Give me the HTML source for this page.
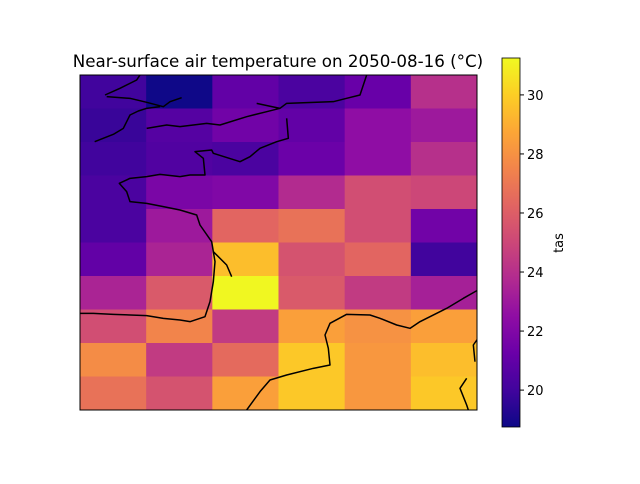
<!DOCTYPE html>
<html><head><meta charset="utf-8"><style>
body{margin:0;background:#fff;font-family:"DejaVu Sans",sans-serif}
</style></head><body>
<svg id="chart" width="640" height="480" xmlns="http://www.w3.org/2000/svg" font-family="DejaVu Sans, sans-serif">
<defs>
<linearGradient id="cb" x1="0" y1="1" x2="0" y2="0">
<stop offset="0" stop-color="#0d0887"/><stop offset="0.1" stop-color="#41049d"/><stop offset="0.2" stop-color="#6a00a8"/><stop offset="0.3" stop-color="#8f0da4"/><stop offset="0.4" stop-color="#b12a90"/><stop offset="0.5" stop-color="#cc4778"/><stop offset="0.6" stop-color="#e16462"/><stop offset="0.7" stop-color="#f2844b"/><stop offset="0.8" stop-color="#fca636"/><stop offset="0.9" stop-color="#fcce25"/><stop offset="1" stop-color="#f0f921"/>
</linearGradient>
<clipPath id="pc"><rect x="80" y="75" width="397" height="335"/></clipPath>
</defs>
<text x="278" y="67" font-size="16.7" text-anchor="middle">Near-surface air temperature on 2050-08-16 (°C)</text>
<g id="cells"></g>
<g clip-path="url(#pc)">
<g transform="translate(80,75) scale(0.33333)" fill="none" stroke="#000" stroke-width="4.5" stroke-linejoin="round">
<path d="M75,60 L120,40 L170,15 L180,0"/>
<path d="M80,65 L150,70 L200,82 L250,95 L270,80 L305,68"/>
<path d="M44,200 L100,178 L130,160 L150,120 L175,108 L200,100 L240,95"/>
<path d="M200,160 L260,150 L300,155 L380,145 L420,150 L500,125 L560,110 L600,100 L620,85 L700,82 L760,80 L800,70 L840,60 L860,0"/>
<path d="M530,85 L600,100"/>
<path d="M620,130 L625,190 L590,200 L540,220 L510,245 L480,260 L400,235 L395,225 L345,230 L370,250 L375,300 L330,300 L300,305 L240,298 L200,305 L150,310 L118,325 L140,350 L150,380 L200,385 L250,395 L300,405 L350,420 L360,450 L395,500 L405,560 L400,620 L390,680 L375,725 L330,740 L300,735 L250,730 L200,722 L100,718 L40,715 L0,715"/>
<path d="M400,530 L440,570 L455,605"/>
<path d="M1194,645 L1150,670 L1100,700 L1020,740 L990,760 L950,750 L900,730 L870,720 L800,718 L750,745 L735,780 L745,820 L750,870 L700,880 L620,900 L570,915 L540,950 L500,1005"/>
<path d="M1194,790 L1180,810 L1185,860 M1160,910 L1140,940 L1160,990 L1165,1005"/>
</g></g>
<rect x="80" y="75" width="397" height="335" fill="none" stroke="#000" stroke-width="1"/>
<rect x="502" y="58" width="18" height="369" fill="url(#cb)" stroke="#000" stroke-width="0.8"/>
<g id="cbticks"></g>
<text x="563" y="243" font-size="13" text-anchor="middle" transform="rotate(-90 563 243)">tas</text>
</svg>
<script>
const rows = [
[20.0,18.8,21.0,20.3,21.2,24.0],
[19.8,20.6,21.5,21.0,22.5,23.0],
[20.0,20.5,20.3,21.3,22.5,24.0],
[20.3,21.8,22.0,23.8,25.3,25.0],
[20.3,23.0,26.3,26.8,25.3,21.5],
[21.0,23.5,29.5,25.5,26.3,20.0],
[23.5,25.8,31.2,25.8,24.5,23.3],
[25.3,27.5,24.5,28.5,28.0,28.5],
[27.8,24.5,26.5,29.8,28.2,29.5],
[26.8,25.5,28.5,29.8,28.2,29.8]
];
const cbTicks = [20,22,24,26,28,30];
const vmin = 18.75, vmax = 31.25;
const stops = ["#0d0887","#41049d","#6a00a8","#8f0da4","#b12a90","#cc4778","#e16462","#f2844b","#fca636","#fcce25","#f0f921"];
function hex(h){return [1,3,5].map(i=>parseInt(h.substr(i,2),16));}
function cmap(v){let t=Math.max(0,Math.min(1,(v-vmin)/(vmax-vmin)))*10;let i=Math.min(9,Math.floor(t));let f=t-i;let a=hex(stops[i]),b=hex(stops[i+1]);return "rgb("+a.map((c,k)=>Math.round(c+(b[k]-c)*f)).join(",")+")";}
const X0=80,Y0=75,W=397,H=335;
function xs(c){return X0+c*W/rows[0].length;}
function ys(r){return Y0+r*H/rows.length;}
function cy(v){return 427-(v-vmin)/(vmax-vmin)*369;}
const NS="http://www.w3.org/2000/svg";
const g=document.getElementById("cells");
rows.forEach((row,r)=>row.forEach((v,c)=>{
 const el=document.createElementNS(NS,"rect");
 
 
 el.setAttribute("x",xs(c));el.setAttribute("y",ys(r));
 el.setAttribute("width",xs(c+1)-xs(c)+0.5);el.setAttribute("height",ys(r+1)-ys(r)+0.5);
 el.setAttribute("fill",cmap(v));g.appendChild(el);
}));
const tg=document.getElementById("cbticks");
cbTicks.forEach(t=>{
 const y=cy(t);
 const l=document.createElementNS(NS,"line");
 
 
 l.setAttribute("x1",520);l.setAttribute("x2",524);l.setAttribute("y1",y);l.setAttribute("y2",y);l.setAttribute("stroke","#000");
 tg.appendChild(l);
 const tx=document.createElementNS(NS,"text");
 
 
 tx.setAttribute("x",527);tx.setAttribute("y",y+5);tx.setAttribute("font-size","13");tx.textContent=t;
 tg.appendChild(tx);
});
</script>
</body></html>
